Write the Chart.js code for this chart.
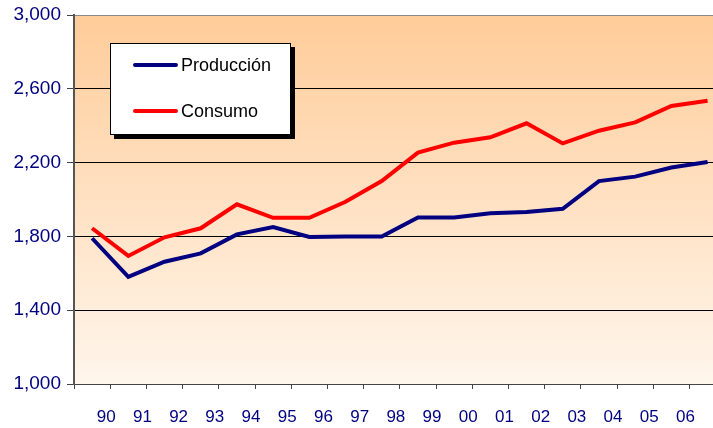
<!DOCTYPE html>
<html>
<head>
<meta charset="utf-8">
<script src="https://cdn.jsdelivr.net/npm/chart.js@4/dist/chart.umd.min.js"></script>
<style>
  html, body { margin: 0; padding: 0; background: #fff; overflow: hidden; }
  #wrap { width: 713px; height: 428px; position: relative; }
</style>
</head>
<body>
<div id="wrap"><canvas id="myChart"></canvas></div>
<script>
// Values (18 points, labels sit on the ticks between them)
var years = ['90', '91', '92', '93', '94', '95', '96', '97', '98', '99', '00', '01', '02', '03', '04', '05', '06'];
var produccion = [1790, 1581, 1663, 1708, 1811, 1851, 1797, 1800, 1800, 1903, 1903, 1925, 1932, 1950, 2100, 2124, 2173, 2203];
var consumo = [1844, 1694, 1795, 1844, 1974, 1901, 1901, 1988, 2100, 2254, 2308, 2337, 2413, 2304, 2373, 2418, 2507, 2535];
var yTicks = [1000, 1400, 1800, 2200, 2600, 3000];

function toPoints(arr) {
  return arr.map(function (v, i) { return { x: i, y: v }; });
}

// Peach gradient behind the plot
var plotBackground = {
  id: 'plotBackground',
  beforeDraw: function (chart) {
    var a = chart.chartArea;
    var c = chart.ctx;
    var g = c.createLinearGradient(0, a.top, 0, a.bottom);
    g.addColorStop(0, '#FFCC99');
    g.addColorStop(1, '#FFF6EC');
    c.save();
    c.fillStyle = g;
    c.fillRect(a.left, a.top, a.right - a.left, a.bottom - a.top);
    c.restore();
  }
};

// Boxed legend with a drop shadow, drawn inside the plot
var boxLegend = {
  id: 'boxLegend',
  afterDraw: function (chart) {
    var c = chart.ctx;
    var x = 110, y = 43, w = 181, h = 92;
    c.save();
    c.fillStyle = '#000';
    c.fillRect(x + 4, y + 4, w, h);
    c.fillStyle = '#fff';
    c.fillRect(x, y, w, h);
    c.strokeStyle = '#000';
    c.lineWidth = 1;
    c.strokeRect(x + 0.5, y + 0.5, w - 1, h - 1);
    c.font = '18px "Liberation Sans", Arial, sans-serif';
    c.textBaseline = 'middle';
    chart.data.datasets.forEach(function (ds, i) {
      var ly = 65 + i * 46;
      c.strokeStyle = ds.borderColor;
      c.lineWidth = 4;
      c.lineCap = 'round';
      c.beginPath();
      c.moveTo(135, ly);
      c.lineTo(176, ly);
      c.stroke();
      c.fillStyle = '#000';
      c.fillText(ds.label, 181, ly + 1);
    });
    c.restore();
  }
};

var ctx = document.getElementById('myChart').getContext('2d');
var myChart = new Chart(ctx, {
  type: 'line',
  data: {
    datasets: [{
      label: 'Producción',
      data: toPoints(produccion),
      borderColor: '#000080',
      borderWidth: 4,
      pointRadius: 0,
      tension: 0
    }, {
      label: 'Consumo',
      data: toPoints(consumo),
      borderColor: '#FF0000',
      borderWidth: 4,
      pointRadius: 0,
      tension: 0
    }]
  },
  options: {
    responsive: true,
    maintainAspectRatio: false,
    animation: false,
    layout: { padding: { top: 15, right: 0, left: 0, bottom: 0 } },
    scales: {
      x: {
        type: 'linear',
        min: -0.5,
        max: 17.15,
        afterBuildTicks: function (axis) {
          axis.ticks = years.concat(['']).map(function (y, i) { return { value: i - 0.5 }; });
        },
        afterFit: function (axis) {
          axis.height = 44;
          axis.paddingLeft = 0;
          axis.paddingRight = 0;
        },
        grid: {
          drawOnChartArea: false,
          tickLength: 5,
          tickColor: '#444'
        },
        border: { color: '#444', width: 1 },
        ticks: {
          autoSkip: false,
          maxRotation: 0,
          padding: 18,
          labelOffset: -4,
          color: '#000080',
          font: { family: '"Liberation Sans", Arial, sans-serif', size: 17 },
          callback: function (value) {
            return years[Math.round(value - 0.5)] || '';
          }
        }
      },
      y: {
        min: 1000,
        max: 3000,
        afterBuildTicks: function (axis) {
          axis.ticks = yTicks.map(function (v) { return { value: v }; });
        },
        afterFit: function (axis) {
          axis.width = 74;
          axis.paddingTop = 0;
          axis.paddingBottom = 0;
        },
        grid: {
          color: function (c) { return c.tick && c.tick.value === 3000 ? '#888' : '#000'; },
          lineWidth: 1,
          tickLength: 7,
          tickColor: '#444'
        },
        border: { color: '#555', width: 2 },
        ticks: {
          padding: 6,
          color: '#000080',
          font: { family: '"Liberation Sans", Arial, sans-serif', size: 19 },
          callback: function (value) {
            return value.toLocaleString('en-US');
          }
        }
      }
    },
    plugins: {
      legend: { display: false },
      tooltip: { enabled: false }
    }
  },
  plugins: [plotBackground, boxLegend]
});
</script>
</body>
</html>
